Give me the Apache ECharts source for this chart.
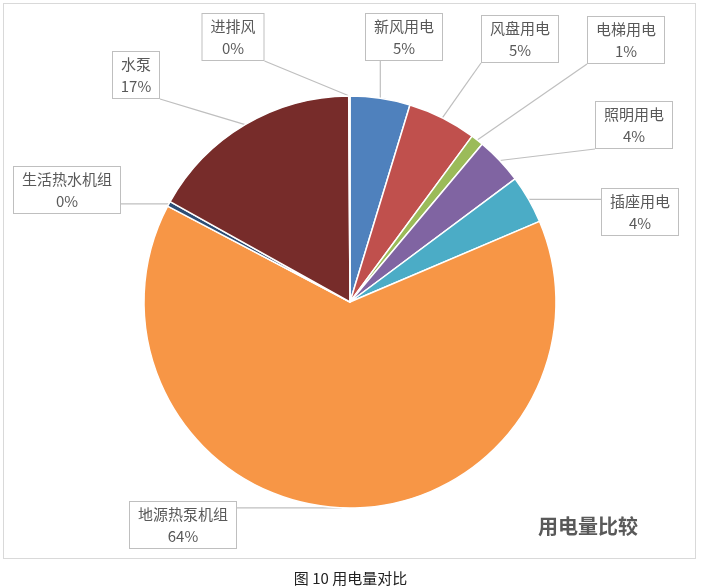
<!DOCTYPE html>
<html>
<head>
<meta charset="utf-8">
<script src="https://cdn.jsdelivr.net/npm/echarts@6/dist/echarts.min.js"></script>
<style>
  html, body { margin: 0; padding: 0; background: #fff; }
  #frame { position: absolute; left: 3px; top: 3px; width: 693px; height: 556px; border: 1.5px solid #d9d9d9; box-sizing: border-box; }
  #view { position: absolute; left: 0; top: 0; width: 701px; height: 588px; }
  #caption { position: absolute; left: 0; top: 568px; width: 701px; text-align: center; font: 15px/20px "Noto Sans CJK SC", serif; color: #222; }
</style>
</head>
<body>
<div id="frame"></div>
<div id="view"></div>
<div id="caption">图 10 用电量对比</div>
<script>
var names = ['新风用电', '风盘用电', '电梯用电', '照明用电', '插座用电', '地源热泵机组', '生活热水机组', '水泵', '进排风'];
var values = [4.7, 5.4, 1.0, 3.7, 3.8, 64.1, 0.4, 16.8, 0.1];
var colors = ['#4f81bd', '#c0504d', '#9bbb59', '#8064a2', '#4bacc6', '#f79646', '#2c4d75', '#772c2a', '#5f7530'];
// where each callout box sits (center of box)
var labelPos = [[404, 37], [520, 39], [626, 40], [634, 125], [640, 212], [183, 525], [67, 190], [136, 75], [233, 37]];

var FONT_SIZE = 15;
var chart = echarts.init(document.getElementById('view'));
var data = names.map(function(n, i) {
    // fix the box width to the name so every callout hugs its text
    return {name: n, value: values[i], itemStyle: {color: colors[i]}, label: {width: n.length * FONT_SIZE}};
});

chart.setOption({
    animation: false,
    title: {
        text: '用电量比较', right: 58, top: 511,
        textStyle: {fontFamily: 'Noto Sans CJK SC', fontSize: 20, fontWeight: 'bold', color: '#595959'}
    },
    series: [{
        type: 'pie',
        center: [350, 302],
        radius: [0, 206],
        startAngle: 90,
        percentPrecision: 0,
        data: data,
        itemStyle: {borderColor: '#fff', borderWidth: 1.5},
        label: {
            show: true,
            formatter: '{b}\n{d}%',
            fontFamily: 'Noto Sans CJK SC',
            fontSize: FONT_SIZE,
            lineHeight: 22,
            color: '#595959',
            align: 'center',
            overflow: 'none',
            backgroundColor: '#fff',
            borderColor: '#bfbfbf',
            borderWidth: 1,
            padding: [1, 8]
        },
        labelLine: {show: true, lineStyle: {color: '#bfbfbf', width: 1.2}},
        labelLayout: function(p) {
            var pos = labelPos[p.dataIndex];
            var w = p.labelRect.width, h = p.labelRect.height;
            var x0 = pos[0] - w / 2, y0 = pos[1] - h / 2;
            // straight pointer from the slice edge to the closest point of the box
            var s = p.labelLinePoints[0];
            var tx = Math.min(Math.max(s[0], x0), x0 + w);
            var ty = Math.min(Math.max(s[1], y0), y0 + h);
            if (tx > x0 && tx < x0 + w && ty > y0 && ty < y0 + h) { tx = pos[0]; ty = pos[1]; }
            var mid = [(s[0] + tx) / 2, (s[1] + ty) / 2];
            return {
                x: pos[0], y: pos[1], align: 'center', verticalAlign: 'middle',
                labelLinePoints: [s, mid, [tx, ty]]
            };
        },
        emphasis: {disabled: true}
    }]
});
</script>
</body>
</html>
